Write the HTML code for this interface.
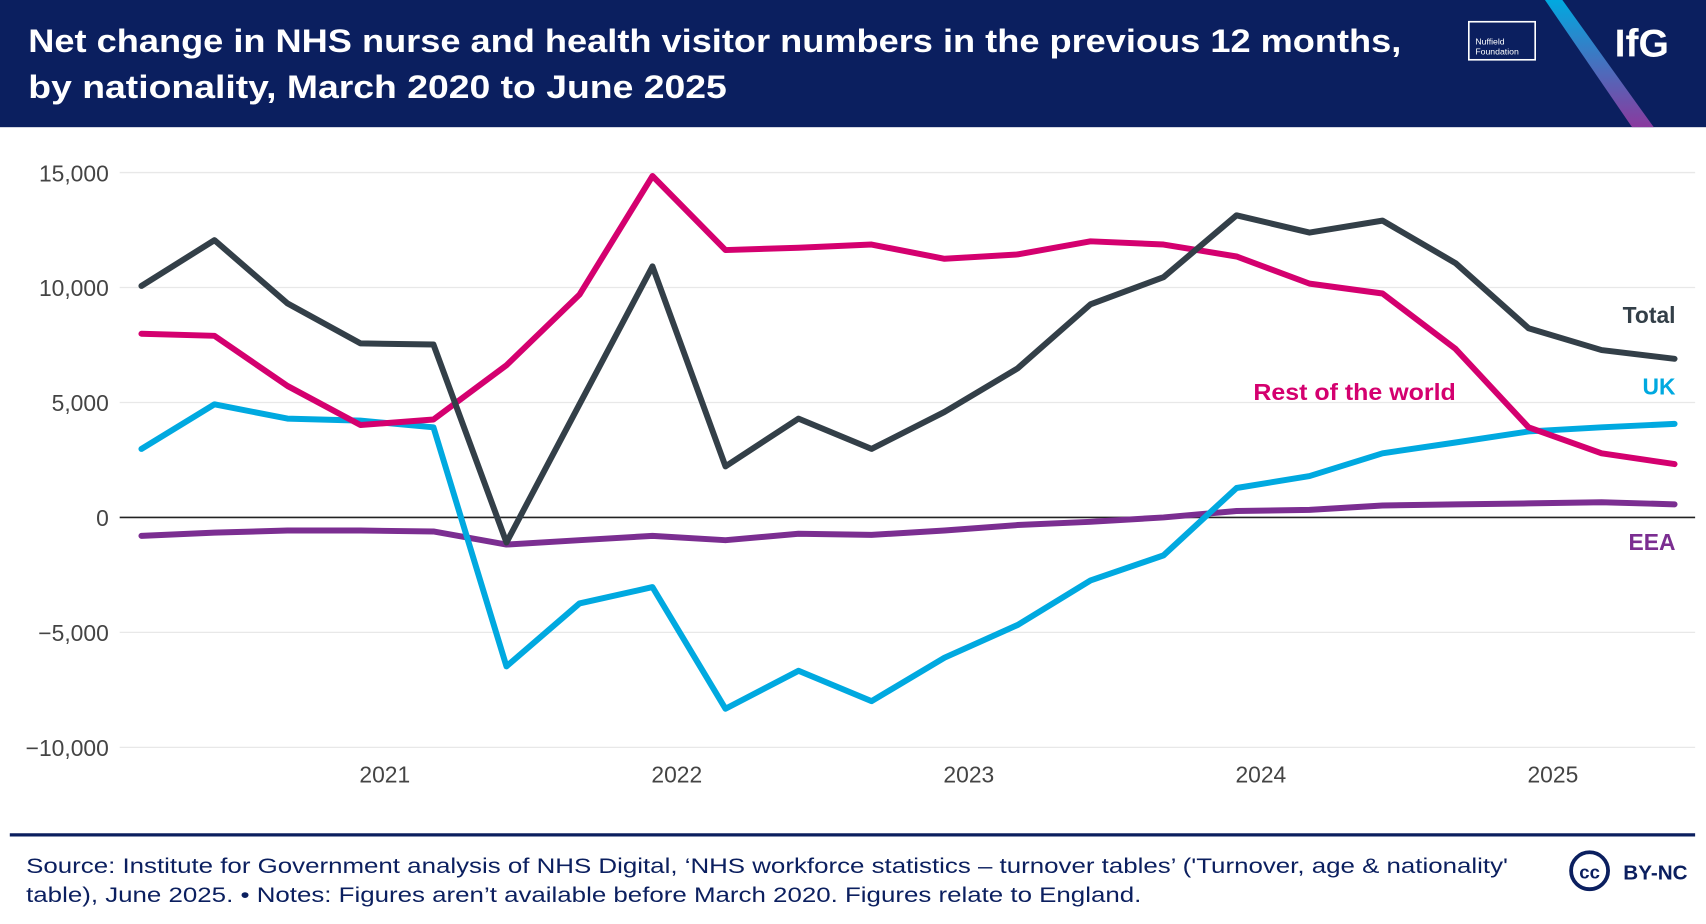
<!DOCTYPE html>
<html><head><meta charset="utf-8"><style>
html,body{margin:0;padding:0;background:#fff;}
svg{display:block;font-family:"Liberation Sans",sans-serif;}
</style></head><body>
<svg id="chart" width="1706" height="924" viewBox="0 0 1568 850" preserveAspectRatio="none" xmlns="http://www.w3.org/2000/svg">
<rect x="0" y="0" width="1568" height="117" fill="#0b1f5f"/>
<text x="26" y="48" fill="#fff" font-size="30" font-weight="bold" textLength="1262" lengthAdjust="spacingAndGlyphs">Net change in NHS nurse and health visitor numbers in the previous 12 months,</text>
<text x="26" y="90" fill="#fff" font-size="30" font-weight="bold" textLength="642" lengthAdjust="spacingAndGlyphs">by nationality, March 2020 to June 2025</text>
<g>
<rect x="1350" y="20" width="61" height="35" fill="none" stroke="#fff" stroke-width="1.5"/>
<text x="1356" y="41" fill="#fff" font-size="8">Nuffield</text>
<text x="1356" y="50" fill="#fff" font-size="8">Foundation</text>
</g>
<defs><linearGradient id="g" x1="0" y1="0" x2="0" y2="1"><stop offset="0" stop-color="#00a9e0"/><stop offset="1" stop-color="#8a3a9e"/></linearGradient></defs>
<polygon points="1420,0 1436,0 1520,117 1500,117" fill="url(#g)"/>
<text x="1484" y="52" fill="#fff" font-size="36" font-weight="bold">IfG</text>
<g id="grid"></g>
<g id="series"></g>
<text x="1540" y="297" text-anchor="end" fill="#333f48" font-size="21" font-weight="bold">Total</text>
<text x="1338" y="368" text-anchor="end" fill="#d4006f" font-size="21" font-weight="bold" textLength="186" lengthAdjust="spacingAndGlyphs">Rest of the world</text>
<text x="1540" y="363" text-anchor="end" fill="#00a9e0" font-size="21" font-weight="bold">UK</text>
<text x="1540" y="506" text-anchor="end" fill="#7b2e91" font-size="21" font-weight="bold">EEA</text>
<line x1="9" y1="768" x2="1558" y2="768" stroke="#0b1f5f" stroke-width="3"/>
<text x="24" y="803" fill="#0b1f5f" font-size="19.5" textLength="1362" lengthAdjust="spacingAndGlyphs">Source: Institute for Government analysis of NHS Digital, ‘NHS workforce statistics – turnover tables’ ('Turnover, age &amp; nationality'</text>
<text x="24" y="830" fill="#0b1f5f" font-size="19.5" textLength="1025" lengthAdjust="spacingAndGlyphs">table), June 2025.  • Notes: Figures aren’t available before March 2020. Figures relate to England.</text>
<g>
<circle cx="1461" cy="801" r="17" fill="none" stroke="#0b1f5f" stroke-width="3.5"/>
<text x="1461" y="808" text-anchor="middle" fill="#0b1f5f" font-size="17" font-weight="bold">cc</text>
<text x="1492" y="809" fill="#0b1f5f" font-size="19" font-weight="bold">BY-NC</text>
</g>
</svg>
<script>
const yTicks=[15000,10000,5000,0,-5000,-10000];
const yTickLabels=["15,000","10,000","5,000","0","\u22125,000","\u221210,000"];
const xYears=[2021,2022,2023,2024,2025];
const total=[10070,12060,9310,7570,7520,-1090,4920,10920,2220,4300,2980,4590,6480,9270,10450,13140,12390,12910,11060,8230,7280,6900];
const restOfWorld=[7990,7900,5720,4020,4260,6620,9690,14850,11630,11730,11870,11250,11440,12010,11870,11350,10170,9740,7330,3920,2790,2320];
const uk=[2980,4920,4300,4210,3920,-6480,-3740,-3030,-8320,-6670,-7990,-6100,-4680,-2740,-1650,1280,1800,2790,3260,3740,3920,4070];
const eea=[-800,-660,-570,-570,-610,-1180,-990,-800,-990,-710,-760,-570,-330,-190,0,280,330,520,570,610,660,570];
const NS="http://www.w3.org/2000/svg";
function y(v){return 476-v*0.02115;}
function xq(i){return 130+i*67.1;}
function xy(yr){return 130+((yr-2020)*12-2)/3*67.1;}
const grid=document.getElementById('grid');
yTicks.forEach((t,i)=>{
  const l=document.createElementNS(NS,'line');
  l.setAttribute('x1',110);l.setAttribute('x2',1558);l.setAttribute('y1',y(t));l.setAttribute('y2',y(t));
  l.setAttribute('stroke',t===0?'#222':'#e8e8e8');l.setAttribute('stroke-width',t===0?1.5:1.2);
  
  
  grid.appendChild(l);
  const tx=document.createElementNS(NS,'text');
  tx.setAttribute('x',100);tx.setAttribute('y',y(t)+8);tx.setAttribute('text-anchor','end');
  tx.setAttribute('fill','#444');tx.setAttribute('font-size','21');tx.textContent=yTickLabels[i];
  
  
  grid.appendChild(tx);
});
xYears.forEach(yr=>{
  const tx=document.createElementNS(NS,'text');
  tx.setAttribute('x',xy(yr));tx.setAttribute('y',720);tx.setAttribute('text-anchor','middle');
  tx.setAttribute('fill','#444');tx.setAttribute('font-size','21');tx.textContent=yr;
  
  
  grid.appendChild(tx);
});
const ser=document.getElementById('series');
[[eea,'#7b2e91','series-eea'],[uk,'#00a9e0','series-uk'],[restOfWorld,'#d4006f','series-rest-of-world'],[total,'#333f48','series-total']].forEach(([d,c,n])=>{
  const p=document.createElementNS(NS,'polyline');
  p.setAttribute('points',d.map((v,i)=>xq(i)+','+y(v)).join(' '));
  p.setAttribute('fill','none');p.setAttribute('stroke',c);p.setAttribute('stroke-width',5.5);
  p.setAttribute('stroke-linejoin','round');p.setAttribute('stroke-linecap','round');
  
  
  ser.appendChild(p);
});
</script>
</body></html>
